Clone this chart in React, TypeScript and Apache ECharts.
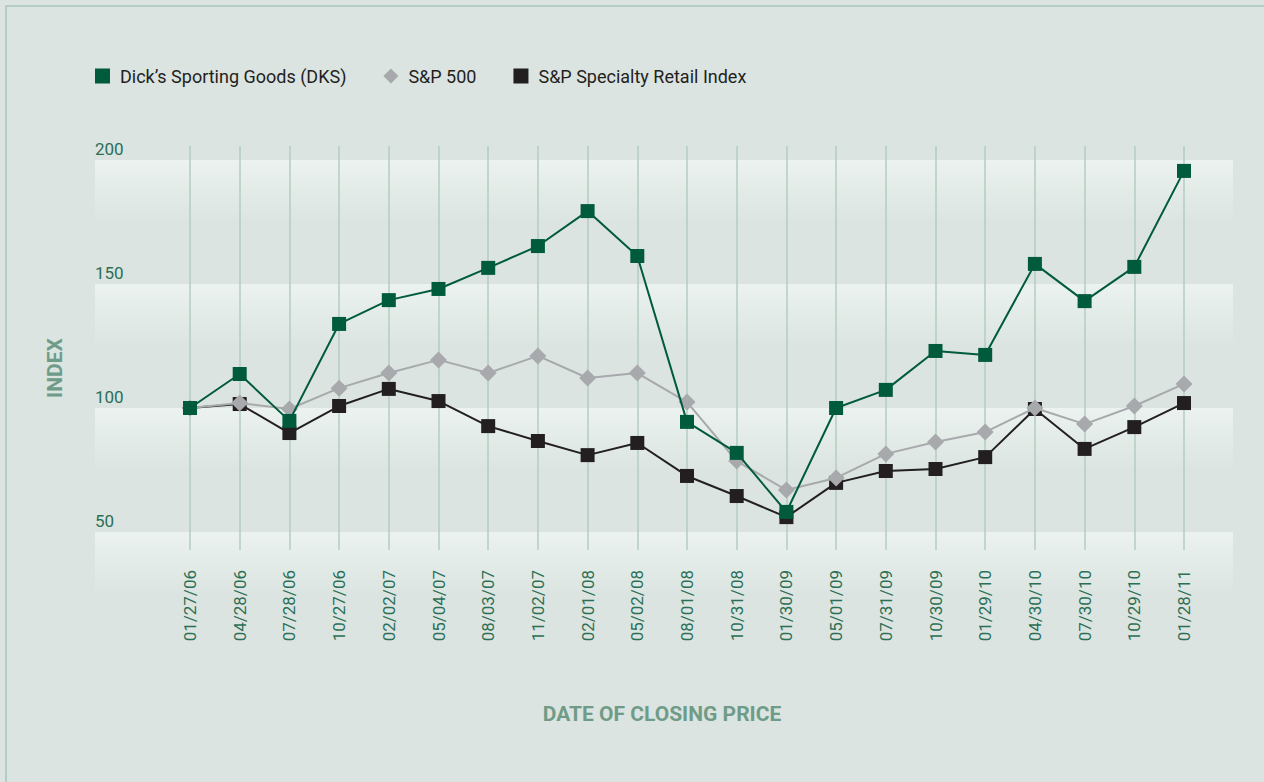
import React, { useEffect, useRef } from "react";
import * as echarts from "echarts";

const categories = [
  "01/27/06", "04/28/06", "07/28/06", "10/27/06", "02/02/07", "05/04/07", "08/03/07",
  "11/02/07", "02/01/08", "05/02/08", "08/01/08", "10/31/08", "01/30/09", "05/01/09",
  "07/31/09", "10/30/09", "01/29/10", "04/30/10", "07/30/10", "10/29/10", "01/28/11",
];
const dks = [100, 113.7, 94.8, 133.9, 143.5, 148, 156.5, 165.3, 179.4, 161.3, 94.4, 81.9, 58.1, 100, 107.3, 123, 121.4, 158.1, 143.1, 156.9, 195.6];
const sp500 = [100, 102, 99.6, 108, 114.1, 119.4, 114.1, 121, 112.1, 114.1, 102.4, 78.6, 66.9, 71.8, 81.5, 86.3, 90.3, 100, 93.5, 100.8, 109.7];
const specialty = [100, 101.6, 89.9, 100.8, 107.7, 102.8, 92.7, 86.7, 81, 85.9, 72.6, 64.5, 56, 69.8, 74.6, 75.4, 80.2, 99.6, 83.5, 92.3, 102];
const seriesNames = ["Dick’s Sporting Goods (DKS)", "S&P 500", "S&P Specialty Retail Index"];
const yMin = 50;
const yMax = 200;
const yStep = 50;
const xAxisTitle = "DATE OF CLOSING PRICE";
const yAxisTitle = "INDEX";

const FONT = "Roboto, 'DejaVu Sans', sans-serif";
const GREEN = "#005a3c";
const GRAY = "#a7a9ac";
const BLACK = "#231f20";
const LABEL = "#2b6f55";
const TITLE = "#6f9c88";

export default function App() {
  const ref = useRef<HTMLDivElement>(null);
  useEffect(() => {
    document.body.style.margin = "0";
    const chart = echarts.init(ref.current!, null, { renderer: "svg" });
    // band grid spans 160..592 px, data grid 160..532 px (yMin..yMax)
    const pxPerUnit = (532 - 160) / (yMax - yMin);
    const bandMin = yMax - (592 - 160) / pxPerUnit;
    const bandH = 60 / pxPerUnit;
    const bandTops: number[] = [];
    for (let v = yMax; v >= yMin; v -= yStep) bandTops.push(v);
    const bandGrad = new echarts.graphic.LinearGradient(0, 0, 0, 1, [
      { offset: 0, color: "#ebf2ef" },
      { offset: 1, color: "#dce5e1" },
    ]);
    chart.setOption({
      animation: false,
      backgroundColor: "#dbe4e0",
      textStyle: { fontFamily: FONT },
      legend: {
        left: 90,
        top: 62,
        itemWidth: 15,
        itemHeight: 15,
        itemGap: 37,
        textStyle: { fontSize: 18, color: BLACK, fontFamily: FONT, fontWeight: "normal", padding: [0, 0, 0, 5] },
        data: [
          { name: seriesNames[0], icon: "rect" },
          { name: seriesNames[1], icon: "diamond" },
          { name: seriesNames[2], icon: "rect" },
        ],
      },
      grid: [
        { left: 95, right: 31, top: 160, bottom: 190 },
        { left: 190, right: 80, top: 160, bottom: 250 },
        { left: 190, right: 80, top: 146, bottom: 232 },
      ],
      xAxis: [
        { gridIndex: 0, type: "value", min: 0, max: 1, show: false },
        { gridIndex: 1, type: "category", data: categories, boundaryGap: false, show: false },
        {
          gridIndex: 2,
          type: "category",
          data: categories,
          boundaryGap: false,
          z: 3,
          axisLine: { show: false },
          axisTick: { show: false },
          splitLine: { show: true, lineStyle: { color: "#b3ccc2", width: 1.5 } },
          axisLabel: { rotate: 90, margin: 20, color: LABEL, fontSize: 17, fontFamily: FONT, interval: 0 },
        },
      ],
      yAxis: [
        { gridIndex: 0, type: "value", min: bandMin, max: yMax, show: false },
        {
          gridIndex: 1,
          type: "value",
          min: yMin,
          max: yMax,
          interval: yStep,
          axisLine: { show: false },
          axisTick: { show: false },
          splitLine: { show: false },
          axisLabel: {
            align: "left",
            verticalAlign: "bottom",
            margin: 95,
            color: LABEL,
            fontSize: 17,
            fontFamily: FONT,
            padding: [0, 0, 3, 0],
          },
        },
        { gridIndex: 2, type: "value", min: 0, max: 1, show: false },
      ],
      graphic: [
        {
          type: "rect",
          shape: { x: 6, y: 6, width: 1400, height: 1000 },
          style: { fill: "none", stroke: "#b4cdc3", lineWidth: 2 },
          silent: true,
        },
        {
          type: "text",
          x: 662,
          y: 714,
          style: {
            text: xAxisTitle,
            fill: TITLE,
            font: `bold 21px ${FONT}`,
            align: "center",
            verticalAlign: "middle",
          },
        },
        {
          type: "text",
          x: 55,
          y: 368,
          rotation: Math.PI / 2,
          style: {
            text: yAxisTitle,
            fill: TITLE,
            font: `bold 21px ${FONT}`,
            align: "center",
            verticalAlign: "middle",
          },
        },
      ],
      series: [
        {
          type: "line",
          name: "bands",
          xAxisIndex: 0,
          yAxisIndex: 0,
          data: [],
          silent: true,
          markArea: {
            silent: true,
            z: 1,
            itemStyle: { color: bandGrad },
            data: bandTops.map((t) => [{ yAxis: t }, { yAxis: Math.max(t - bandH, bandMin) }]),
          },
        },
        {
          type: "line",
          name: seriesNames[2],
          xAxisIndex: 1,
          yAxisIndex: 1,
          data: specialty,
          z: 5,
          symbol: "rect",
          symbolSize: 14,
          itemStyle: { color: BLACK },
          lineStyle: { color: BLACK, width: 2 },
        },
        {
          type: "line",
          name: seriesNames[1],
          xAxisIndex: 1,
          yAxisIndex: 1,
          data: sp500,
          z: 6,
          symbol: "diamond",
          symbolSize: 17,
          itemStyle: { color: GRAY },
          lineStyle: { color: GRAY, width: 2 },
        },
        {
          type: "line",
          name: seriesNames[0],
          xAxisIndex: 1,
          yAxisIndex: 1,
          data: dks,
          z: 7,
          symbol: "rect",
          symbolSize: 14,
          itemStyle: { color: GREEN },
          lineStyle: { color: GREEN, width: 2 },
        },
      ],
    });
    return () => chart.dispose();
  }, []);
  return <div ref={ref} style={{ width: 1264, height: 782 }} />;
}
